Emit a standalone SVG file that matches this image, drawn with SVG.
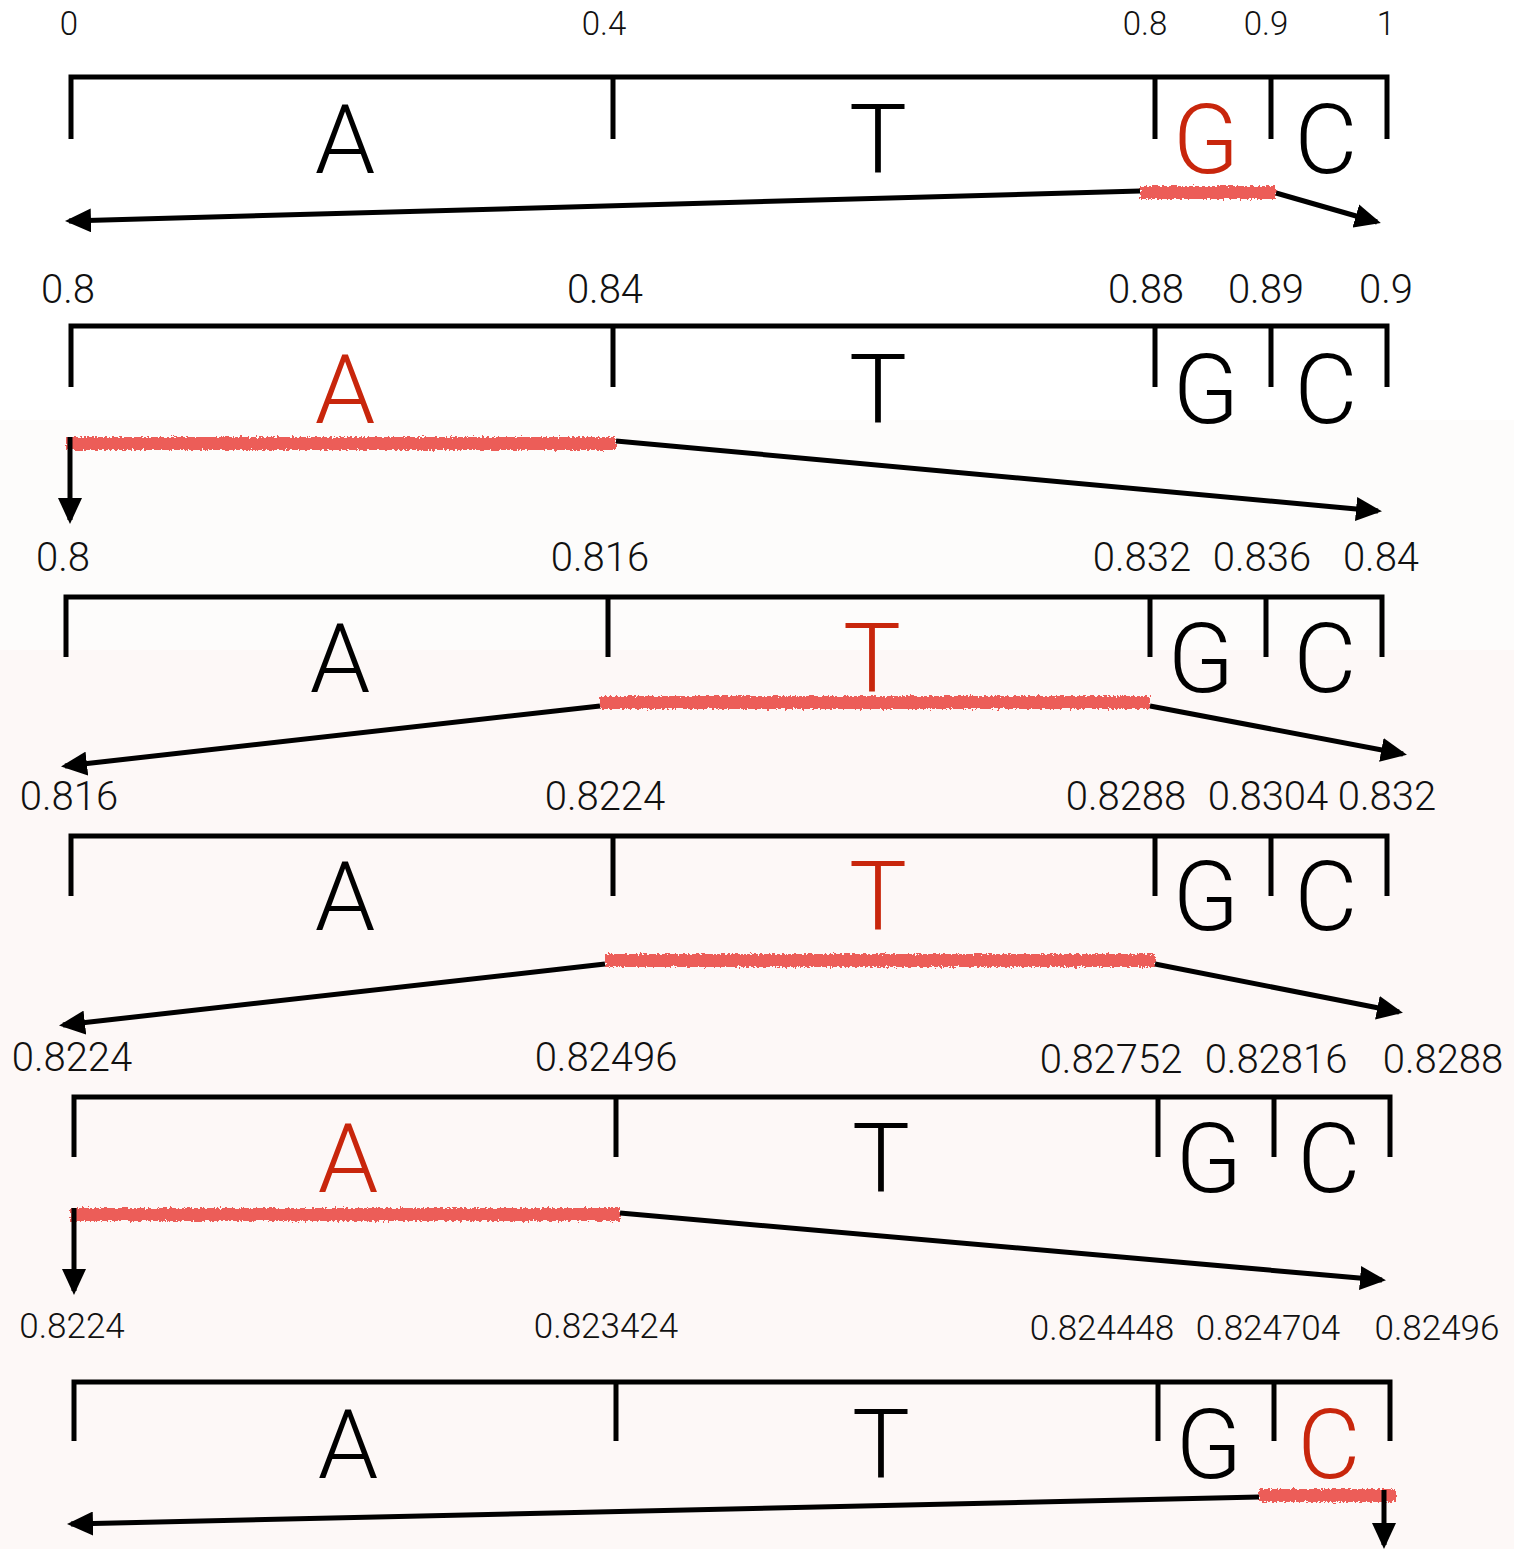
<svg xmlns="http://www.w3.org/2000/svg" width="1514" height="1549" viewBox="0 0 1514 1549">
  <defs>
    <style>
      .bar { fill: none; stroke: #000; stroke-width: 5; stroke-linejoin: miter; }
      .tick { stroke: #000; stroke-width: 5; }
      .lbl { font-family: Roboto, "Liberation Sans", sans-serif; font-weight: 300; fill: #111; text-anchor: middle; }
      .base { font-family: Roboto, "Liberation Sans", sans-serif; font-weight: 300; font-size: 97px; fill: #000; text-anchor: middle; }
      .sel { fill: #c8260c; }
      .hl { fill: #ec5d58; filter: url(#rough); }
      .arrow { stroke: #000; stroke-width: 5; fill: none; marker-end: url(#head); }
    </style>
    <marker id="head" viewBox="0 0 26 24" refX="22" refY="12" markerWidth="26" markerHeight="24" markerUnits="userSpaceOnUse" orient="auto">
      <path d="M0,0 L26,12 L0,24 z" fill="#000"/>
    </marker>
    <filter id="rough" x="-5%" y="-150%" width="110%" height="400%">
      <feTurbulence type="fractalNoise" baseFrequency="0.4" numOctaves="2" seed="7" result="noise"/>
      <feDisplacementMap in="SourceGraphic" in2="noise" scale="6" xChannelSelector="R" yChannelSelector="G"/>
    </filter>
  </defs>

  <!-- page background -->
  <rect x="0" y="0" width="1514" height="1549" fill="#ffffff"/>
  <rect x="0" y="420" width="1514" height="230" fill="#fdfcfb"/>
  <rect x="0" y="650" width="1514" height="899" fill="#fdf8f7"/>

  <!-- interval 1: [0, 1) -->
  <g id="row1">
    <g class="lbl" font-size="33">
      <text x="69" y="35">0</text>
      <text x="604" y="35">0.4</text>
      <text x="1145" y="35">0.8</text>
      <text x="1266" y="35">0.9</text>
      <text x="1386" y="35">1</text>
    </g>
    <path class="bar" d="M71,139 V77 H1387 V139"/>
    <line class="tick" x1="613" y1="77" x2="613" y2="139"/>
    <line class="tick" x1="1155" y1="77" x2="1155" y2="139"/>
    <line class="tick" x1="1271" y1="77" x2="1271" y2="139"/>
    <text class="base" x="345" y="173">A</text>
    <text class="base" x="878" y="173">T</text>
    <text class="base sel" x="1206" y="173">G</text>
    <text class="base" x="1326" y="173">C</text>
    <rect class="hl" x="1140" y="186" width="136" height="13"/>
  </g>

  <!-- interval 2: [0.8, 0.9) -->
  <g id="row2">
    <g class="lbl" font-size="40">
      <text x="68" y="303">0.8</text>
      <text x="605" y="303">0.84</text>
      <text x="1146" y="303">0.88</text>
      <text x="1266" y="303">0.89</text>
      <text x="1386" y="303">0.9</text>
    </g>
    <path class="bar" d="M71,387 V326 H1387 V387"/>
    <line class="tick" x1="613" y1="326" x2="613" y2="387"/>
    <line class="tick" x1="1155" y1="326" x2="1155" y2="387"/>
    <line class="tick" x1="1271" y1="326" x2="1271" y2="387"/>
    <text class="base sel" x="345" y="423">A</text>
    <text class="base" x="878" y="423">T</text>
    <text class="base" x="1206" y="423">G</text>
    <text class="base" x="1326" y="423">C</text>
    <rect class="hl" x="66" y="437" width="550" height="13"/>
  </g>

  <!-- interval 3: [0.8, 0.84) -->
  <g id="row3">
    <g class="lbl" font-size="40">
      <text x="63" y="571">0.8</text>
      <text x="600" y="571">0.816</text>
      <text x="1142" y="571">0.832</text>
      <text x="1262" y="571">0.836</text>
      <text x="1381" y="571">0.84</text>
    </g>
    <path class="bar" d="M66,657 V597 H1382 V657"/>
    <line class="tick" x1="608" y1="597" x2="608" y2="657"/>
    <line class="tick" x1="1150" y1="597" x2="1150" y2="657"/>
    <line class="tick" x1="1266" y1="597" x2="1266" y2="657"/>
    <text class="base" x="340" y="692">A</text>
    <text class="base sel" x="872" y="692">T</text>
    <text class="base" x="1201" y="692">G</text>
    <text class="base" x="1325" y="692">C</text>
    <rect class="hl" x="600" y="696" width="550" height="13"/>
  </g>

  <!-- interval 4: [0.816, 0.832) -->
  <g id="row4">
    <g class="lbl" font-size="40">
      <text x="69" y="810">0.816</text>
      <text x="605" y="810">0.8224</text>
      <text x="1126" y="810">0.8288</text>
      <text x="1268" y="810">0.8304</text>
      <text x="1387" y="810">0.832</text>
    </g>
    <path class="bar" d="M71,896 V836 H1387 V896"/>
    <line class="tick" x1="613" y1="836" x2="613" y2="896"/>
    <line class="tick" x1="1155" y1="836" x2="1155" y2="896"/>
    <line class="tick" x1="1271" y1="836" x2="1271" y2="896"/>
    <text class="base" x="345" y="930">A</text>
    <text class="base sel" x="878" y="930">T</text>
    <text class="base" x="1206" y="930">G</text>
    <text class="base" x="1326" y="930">C</text>
    <rect class="hl" x="605" y="954" width="550" height="13"/>
  </g>

  <!-- interval 5: [0.8224, 0.8288) -->
  <g id="row5">
    <g class="lbl" font-size="40">
      <text x="72" y="1071">0.8224</text>
      <text x="606" y="1071">0.82496</text>
      <text x="1111" y="1073">0.82752</text>
      <text x="1276" y="1073">0.82816</text>
      <text x="1443" y="1073">0.8288</text>
    </g>
    <path class="bar" d="M74,1157 V1097 H1390 V1157"/>
    <line class="tick" x1="616" y1="1097" x2="616" y2="1157"/>
    <line class="tick" x1="1158" y1="1097" x2="1158" y2="1157"/>
    <line class="tick" x1="1274" y1="1097" x2="1274" y2="1157"/>
    <text class="base sel" x="348" y="1192">A</text>
    <text class="base" x="881" y="1192">T</text>
    <text class="base" x="1209" y="1192">G</text>
    <text class="base" x="1329" y="1192">C</text>
    <rect class="hl" x="70" y="1208" width="550" height="13"/>
  </g>

  <!-- interval 6: [0.8224, 0.82496) -->
  <g id="row6">
    <g class="lbl" font-size="35">
      <text x="72" y="1338">0.8224</text>
      <text x="606" y="1338">0.823424</text>
      <text x="1102" y="1340">0.824448</text>
      <text x="1268" y="1340">0.824704</text>
      <text x="1437" y="1340">0.82496</text>
    </g>
    <path class="bar" d="M74,1441 V1382 H1390 V1441"/>
    <line class="tick" x1="616" y1="1382" x2="616" y2="1441"/>
    <line class="tick" x1="1158" y1="1382" x2="1158" y2="1441"/>
    <line class="tick" x1="1274" y1="1382" x2="1274" y2="1441"/>
    <text class="base" x="348" y="1478">A</text>
    <text class="base" x="881" y="1478">T</text>
    <text class="base" x="1209" y="1478">G</text>
    <text class="base sel" x="1329" y="1478">C</text>
    <rect class="hl" x="1259" y="1489" width="137" height="13"/>
  </g>

  <!-- zoom-in connectors from each chosen sub-interval to the next bar -->
  <g id="connectors">
    <line class="arrow" x1="1140" y1="191" x2="69" y2="221"/>
    <line class="arrow" x1="1276" y1="193" x2="1377" y2="222"/>

    <line class="arrow" x1="70" y1="437" x2="70" y2="520"/>
    <line class="arrow" x1="616" y1="441" x2="1378" y2="511"/>

    <line class="arrow" x1="600" y1="706" x2="65" y2="766"/>
    <line class="arrow" x1="1150" y1="706" x2="1403" y2="754"/>

    <line class="arrow" x1="605" y1="964" x2="63" y2="1025"/>
    <line class="arrow" x1="1155" y1="964" x2="1399" y2="1012"/>

    <line class="arrow" x1="74" y1="1208" x2="74" y2="1291"/>
    <line class="arrow" x1="620" y1="1213" x2="1382" y2="1280"/>

    <line class="arrow" x1="1259" y1="1497" x2="71" y2="1524"/>
    <line class="arrow" x1="1384" y1="1490" x2="1384" y2="1545"/>
  </g>
</svg>
